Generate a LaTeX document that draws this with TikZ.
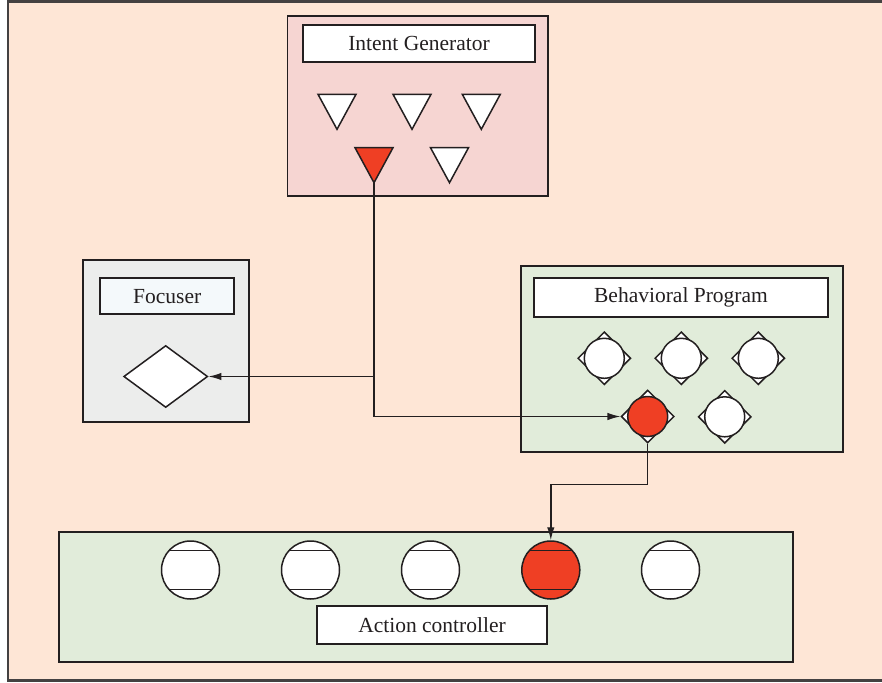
\documentclass[tikz,border=0pt]{standalone}
\usepackage{fontspec}
\setmainfont{Liberation Serif}
\usetikzlibrary{shapes.geometric,arrows.meta}
\definecolor{bgpeach}{HTML}{FEE6D6}
\definecolor{pinkbox}{HTML}{F6D5D2}
\definecolor{greybox}{HTML}{ECEDEC}
\definecolor{greenbox}{HTML}{E1ECDA}
\definecolor{redfill}{HTML}{EF3F24}
\definecolor{ink}{HTML}{231F20}
\definecolor{labelblue}{HTML}{F4F9FB}
\begin{document}
\begin{tikzpicture}[x=1pt,y=-1pt,
  panel/.style={draw=ink, line width=1.8pt, inner sep=0pt},
  labelbox/.style={draw=ink, fill=white, line width=1.8pt, inner sep=0pt,
    text=ink, font=\fontsize{21.5}{24}\selectfont},
  shapeline/.style={draw=ink, line width=1.5pt},
  dia/.style={shapeline, diamond, inner sep=0pt, fill=white},
  ball/.style={shapeline, circle, inner sep=0pt, fill=white},
  conn/.style={draw=ink, line width=1.4pt},
  tip/.style={-{Latex[length=13pt,width=7.5pt]}}]
\useasboundingbox (0,0) rectangle (882,682);
\clip (0,0) rectangle (882,682);
% background and frame
\fill[bgpeach] (8,1.5) rectangle (900,680.5);
\draw[draw=ink!85, line width=2.2pt] (900,1.5) -- (8,1.5) -- (8,680.5) -- (900,680.5);

% Intent Generator
\node[panel, fill=pinkbox, minimum width=260.8pt, minimum height=180pt] (igp) at (417.9,105.7) {};
\node[labelbox, minimum width=232pt, minimum height=37pt] (igl) at (419,43.5) {Intent Generator};
\foreach \cx/\cy in {337/111.8, 412/111.8, 481.3/111.8, 449.5/165.2}
  \draw[shapeline, fill=white] (\cx-19,\cy-17.5) -- (\cx+19,\cy-17.5) -- (\cx,\cy+17.5) -- cycle;
\draw[shapeline, fill=redfill] (355,147.7) -- (393,147.7) -- (374,182.7) -- cycle;
\coordinate (redtri) at (374,182.7);

% Focuser
\node[panel, fill=greybox, minimum width=166.6pt, minimum height=161.7pt] (fcp) at (166,340.8) {};
\node[labelbox, fill=labelblue, minimum width=134.3pt, minimum height=36pt] (fcl) at (167.2,296.3) {Focuser};
\node[dia, minimum width=84pt, minimum height=62pt] (foc) at (165.7,376.5) {};

% Behavioral Program
\node[panel, fill=greenbox, minimum width=322.3pt, minimum height=185.7pt] (bpp) at (682.2,358.8) {};
\node[labelbox, minimum width=293.4pt, minimum height=38.4pt] (bpl) at (681,297.5) {Behavioral Program};
\foreach \n/\cx/\cy in {b1/604.3/358.3, b2/681.3/358.3, b3/758.3/358.3, b5/724.7/416.8}{
  \node[dia, minimum width=53pt, minimum height=53pt] (\n d) at (\cx,\cy) {};
  \node[ball, minimum size=40pt] (\n c) at (\cx,\cy) {};
}
\node[dia, minimum width=53pt, minimum height=53pt] (bpred) at (647.7,416.5) {};
\node[ball, fill=redfill, minimum size=40pt] (bpredc) at (647.7,416.5) {};

% Action controller
\node[panel, fill=greenbox, minimum width=733.7pt, minimum height=130.6pt] (acp) at (426.2,597) {};
\node[labelbox, minimum width=229.4pt, minimum height=38.3pt] (acl) at (432,624.8) {Action controller};
\foreach \n/\cx/\col in {a1/190.5/white, a2/310.5/white, a3/430.5/white, acred/550.8/redfill, a5/670.5/white}{
  \node[ball, fill=\col, minimum size=58pt] (\n) at (\cx,570) {};
  \draw[shapeline] ([xshift=-21.7pt,yshift=19.3pt]\n.center) -- ++(43.4,0);
  \draw[shapeline] ([xshift=-21.7pt,yshift=-19.3pt]\n.center) -- ++(43.4,0);
}

% connectors
\draw[conn, tip] (redtri) |- (foc.east);
\draw[conn, tip] (redtri) |- (bpred.west);
\draw[conn, tip] (bpred.south) -- ++(0,40.6) -| (acred.north);
\end{tikzpicture}
\end{document}
